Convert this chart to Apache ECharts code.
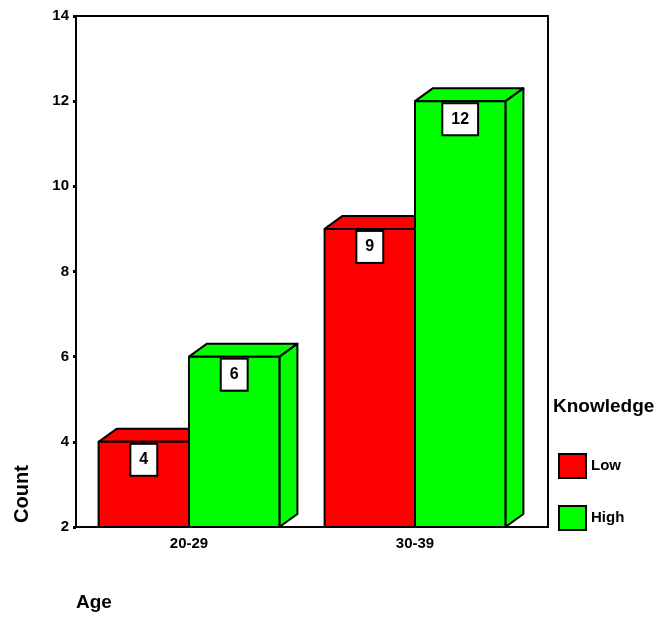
<!DOCTYPE html>
<html>
<head>
<meta charset="utf-8">
<script src="https://cdn.jsdelivr.net/npm/echarts@6/dist/echarts.min.js"></script>
<style>html,body{margin:0;padding:0;background:#fff}#c{width:659px;height:617px}</style>
</head>
<body>
<div id="c"></div>
<script>
var categories = ['20-29', '30-39'];
var seriesNames = ['Low', 'High'];
var lowValues = [4, 9];
var highValues = [6, 12];
var yMin = 2, yMax = 14, yInterval = 2;

var FONT = 'Liberation Sans, Arial, sans-serif';
var chart = echarts.init(document.getElementById('c'), null, {renderer: 'canvas'});

function makeRender(isLeft, color) {
  return function (params, api) {
    var cat = api.value(0), val = api.value(1);
    var top = api.coord([cat, val]);
    var base = api.coord([cat, yMin]);
    var band = api.size([1, 0])[0];
    var w = band * 0.4;
    var x0 = isLeft ? top[0] - w : top[0];
    var x1 = x0 + w;
    var yT = top[1], yB = base[1];
    var dx = 18, dy = 13;
    var st = {fill: color, stroke: '#000', lineWidth: 2, lineJoin: 'round'};
    return {
      type: 'group',
      children: [
        {type: 'polygon', shape: {points: [[x1, yB], [x1 + dx, yB - dy], [x1 + dx, yT - dy], [x1, yT]]}, style: st},
        {type: 'polygon', shape: {points: [[x0, yT], [x0 + dx, yT - dy], [x1 + dx, yT - dy], [x1, yT]]}, style: st},
        {type: 'rect', shape: {x: x0, y: yT, width: w, height: yB - yT}, style: st},
        {type: 'text', x: (x0 + x1) / 2, y: yT + 3, style: {
          text: String(val), fill: '#000', font: 'bold 16px ' + FONT,
          align: 'center', verticalAlign: 'top',
          backgroundColor: '#fff', borderColor: '#000', borderWidth: 2,
          padding: [7, 8]
        }}
      ]
    };
  };
}

function toData(arr) { return arr.map(function (v, i) { return [i, v]; }); }

chart.setOption({
  animation: false,
  grid: {left: 76, right: 131, top: 16, bottom: 90, containLabel: false},
  xAxis: {
    type: 'category', data: categories,
    axisLine: {lineStyle: {color: '#000', width: 2}},
    axisTick: {alignWithLabel: true, length: 3, lineStyle: {color: '#000', width: 3}},
    axisLabel: {color: '#000', fontWeight: 'bold', fontSize: 15, fontFamily: FONT, margin: 9}
  },
  yAxis: {
    type: 'value', min: yMin, max: yMax, interval: yInterval,
    axisLine: {show: true, lineStyle: {color: '#000', width: 2}},
    axisTick: {show: true, length: 3, lineStyle: {color: '#000', width: 3}},
    splitLine: {show: false},
    axisLabel: {color: '#000', fontWeight: 'bold', fontSize: 15, fontFamily: FONT, margin: 7}
  },
  legend: {
    data: seriesNames, orient: 'vertical', left: 558, top: 453, padding: 0,
    itemWidth: 27, itemHeight: 24, itemGap: 26, icon: 'rect',
    textStyle: {color: '#000', fontWeight: 'bold', fontSize: 15, fontFamily: FONT}
  },
  graphic: [
    {type: 'rect', z: 0, shape: {x: 76, y: 16, width: 472, height: 511}, style: {fill: 'none', stroke: '#000', lineWidth: 2}},
    {type: 'text', left: 553, top: 397, style: {text: 'Knowledge', fill: '#000', font: 'bold 19px ' + FONT}},
    {type: 'text', left: 76, top: 593, style: {text: 'Age', fill: '#000', font: 'bold 19px ' + FONT}},
    {type: 'text', x: 22, y: 494, rotation: Math.PI / 2, style: {text: 'Count', fill: '#000', font: 'bold 20px ' + FONT, align: 'center', verticalAlign: 'middle'}}
  ],
  series: [
    {name: seriesNames[0], type: 'custom', renderItem: makeRender(true, '#ff0000'), data: toData(lowValues),
     itemStyle: {color: '#ff0000', borderColor: '#000', borderWidth: 2}, encode: {x: 0, y: 1}},
    {name: seriesNames[1], type: 'custom', renderItem: makeRender(false, '#00ff00'), data: toData(highValues),
     itemStyle: {color: '#00ff00', borderColor: '#000', borderWidth: 2}, encode: {x: 0, y: 1}}
  ]
});
</script>
</body>
</html>
